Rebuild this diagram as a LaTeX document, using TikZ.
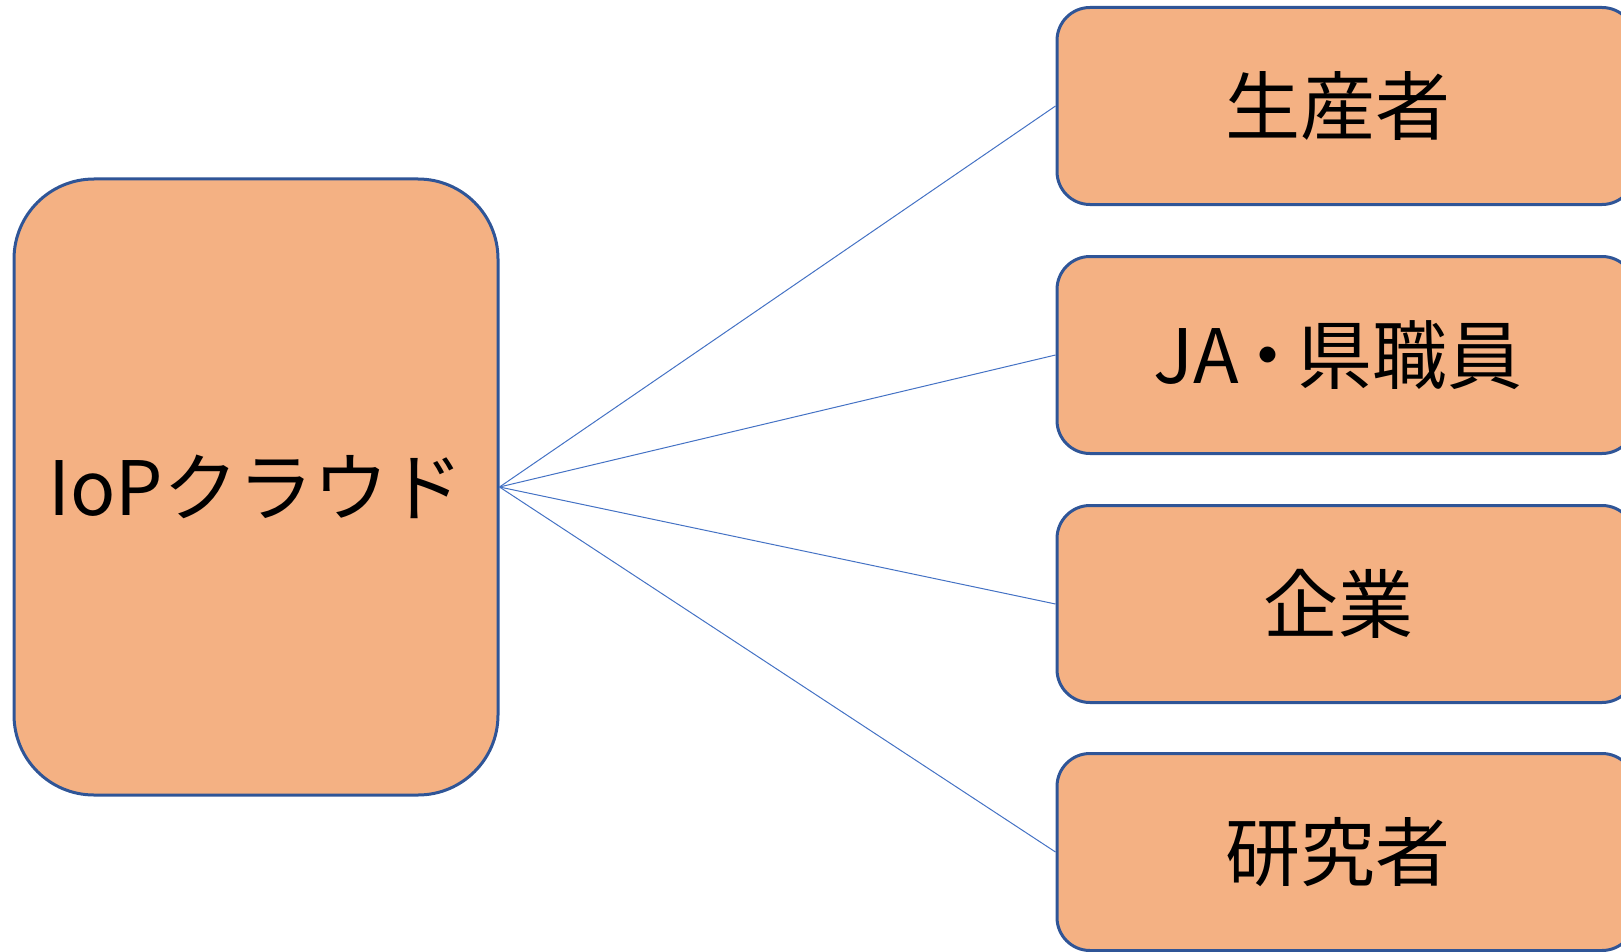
\documentclass[tikz,border=0pt]{standalone}
\usepackage{fontspec}
\setmainfont{Noto Sans CJK JP}

\definecolor{boxfill}{HTML}{F4B183}
\definecolor{boxline}{HTML}{2F5597}
\definecolor{linkline}{HTML}{4472C4}

\begin{document}
\begin{tikzpicture}[x=1pt, y=-1pt,
	box/.style={draw=boxline, fill=boxfill, line width=3pt, rounded corners=33pt,
		minimum width=578pt, minimum height=197pt, font=\fontsize{75}{80}\selectfont,
		execute at end node=\hspace*{16pt}},
	cloudbox/.style={draw=boxline, fill=boxfill, line width=3pt, rounded corners=80pt,
		minimum width=484pt, minimum height=616pt, font=\fontsize{75}{80}\selectfont},
	link/.style={draw=linkline, line width=1pt}]
	\clip (0, 0) rectangle (1621, 952);
	\useasboundingbox (0, 0) rectangle (1621, 952);

	\node[cloudbox] (cloud) at (256, 487) {IoPクラウド};

	\node[box] (farmer) at (1346, 106) {生産者};
	\node[box] (staff) at (1346, 355) {JA\kern-8pt・\kern-8pt県職員};
	\node[box] (company) at (1346, 604) {企業};
	\node[box] (research) at (1346, 852) {研究者};

	\draw[link] (cloud.east) -- (farmer.west);
	\draw[link] (cloud.east) -- (staff.west);
	\draw[link] (cloud.east) -- (company.west);
	\draw[link] (cloud.east) -- (research.west);

\end{tikzpicture}
\end{document}
